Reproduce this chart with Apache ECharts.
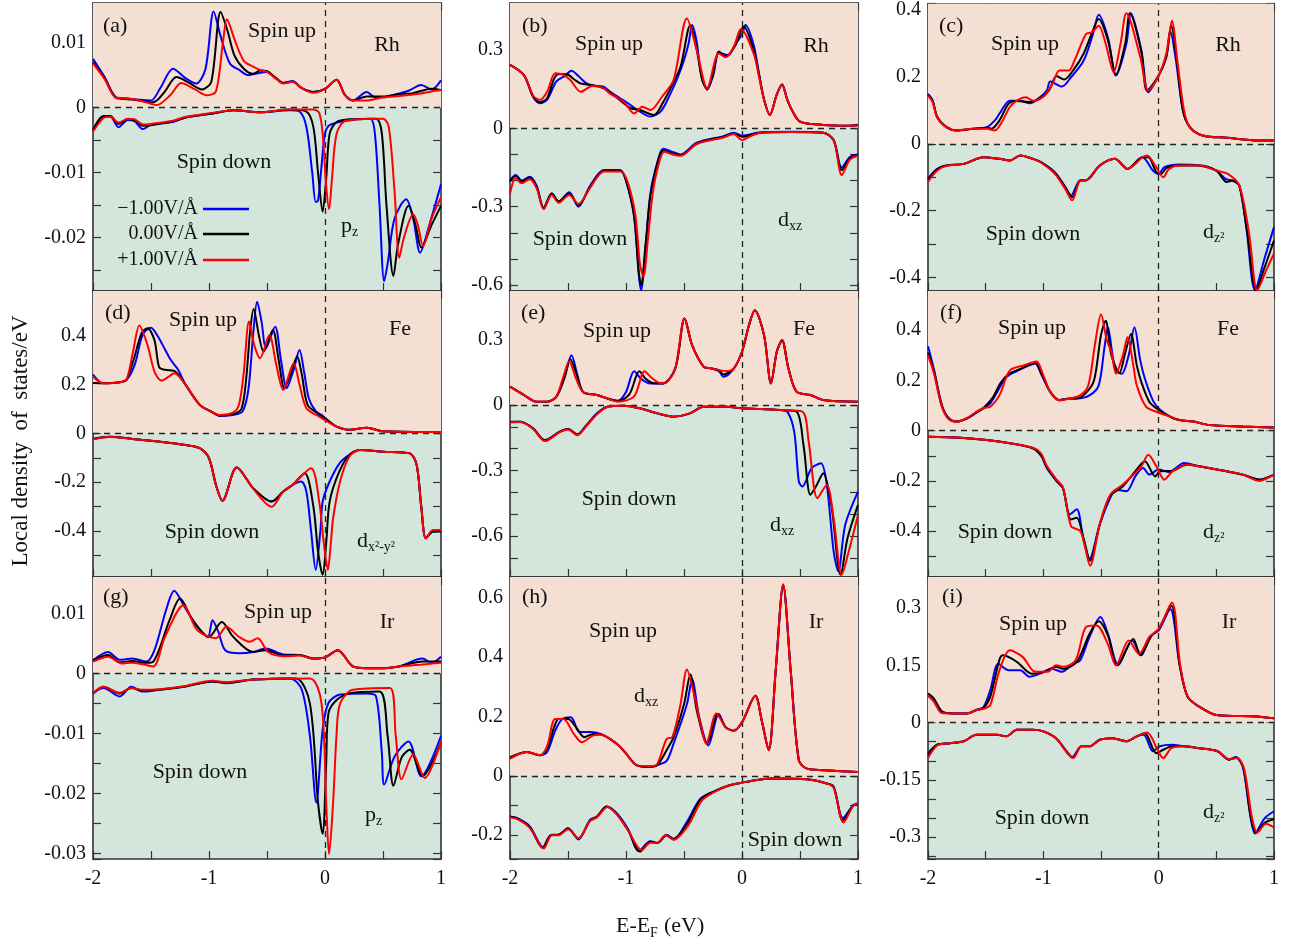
<!DOCTYPE html>
<html><head><meta charset="utf-8">
<script src="https://cdn.jsdelivr.net/npm/echarts@6/dist/echarts.min.js"></script>
<style>html,body{margin:0;padding:0;background:#fff}#c{width:1299px;height:942px}</style>
</head><body><div id="c"></div>
<script>
// ---------- DATA: [energy (eV), LDOS] ----------
const fieldNames = ['\u22121.00V/\u00c5', '0.00V/\u00c5', '+1.00V/\u00c5'];
const xTicks = [-2, -1, 0, 1];

// (a) Rh pz
const a_up_m1 = [[-2,0.0075],[-1.9,0.0047],[-1.8,0.0016],[-1.7,0.0014],[-1.6,0.0012],[-1.5,0.0011],[-1.42,0.003],[-1.31,0.006],[-1.2,0.0045],[-1.11,0.0037],[-1.03,0.006],[-0.96,0.0148],[-0.9,0.011],[-0.82,0.0068],[-0.74,0.0058],[-0.66,0.005],[-0.58,0.0053],[-0.5,0.0055],[-0.42,0.0045],[-0.36,0.0038],[-0.28,0.0041],[-0.2,0.003],[-0.1,0.0024],[0,0.0029],[0.1,0.0043],[0.17,0.002],[0.24,0.0011],[0.36,0.0024],[0.43,0.0016],[0.5,0.0016],[0.64,0.0022],[0.72,0.0026],[0.83,0.0035],[0.92,0.0028],[1,0.0042]];
const a_up_0 = [[-2,0.007],[-1.9,0.0045],[-1.8,0.0015],[-1.7,0.0013],[-1.6,0.0011],[-1.5,0.0008],[-1.45,0.0011],[-1.38,0.0025],[-1.28,0.0047],[-1.17,0.0038],[-1.06,0.0028],[-0.98,0.004],[-0.9,0.0147],[-0.84,0.0118],[-0.78,0.008],[-0.7,0.006],[-0.62,0.0052],[-0.56,0.0057],[-0.5,0.0056],[-0.42,0.0045],[-0.36,0.0038],[-0.28,0.004],[-0.2,0.003],[-0.1,0.0024],[0,0.0029],[0.1,0.0043],[0.17,0.002],[0.24,0.0011],[0.36,0.0017],[0.5,0.0017],[0.64,0.0021],[0.75,0.0022],[0.92,0.0029],[1,0.0027]];
const a_up_p1 = [[-2,0.0068],[-1.9,0.0044],[-1.8,0.0015],[-1.7,0.0014],[-1.6,0.0011],[-1.5,0.0006],[-1.45,0.0004],[-1.33,0.002],[-1.24,0.0038],[-1.12,0.0028],[-1.02,0.0019],[-0.94,0.0025],[-0.88,0.01],[-0.845,0.0136],[-0.78,0.0105],[-0.7,0.0072],[-0.62,0.0063],[-0.56,0.0058],[-0.5,0.0055],[-0.42,0.0044],[-0.36,0.0037],[-0.28,0.004],[-0.2,0.003],[-0.1,0.0023],[0,0.0029],[0.1,0.0043],[0.17,0.002],[0.24,0.0011],[0.36,0.0011],[0.5,0.0016],[0.64,0.0018],[0.8,0.0021],[0.92,0.0025],[1,0.0027]];
const a_dn_m1 = [[-2,-0.0035],[-1.91,-0.0014],[-1.85,-0.0014],[-1.78,-0.003],[-1.7,-0.0019],[-1.64,-0.0021],[-1.57,-0.0033],[-1.5,-0.0026],[-1.31,-0.0022],[-1.2,-0.0015],[-0.97,-0.0009],[-0.79,-0.0004],[-0.56,-0.0007],[-0.3,-0.0004],[-0.22,-0.0006],[-0.16,-0.003],[-0.11,-0.01],[-0.08,-0.0145],[-0.06,-0.0143],[-0.03,-0.009],[0,-0.004],[0.04,-0.0027],[0.18,-0.002],[0.39,-0.0017],[0.43,-0.004],[0.47,-0.015],[0.51,-0.0267],[0.54,-0.024],[0.6,-0.017],[0.7,-0.0141],[0.76,-0.017],[0.82,-0.0223],[0.9,-0.018],[1,-0.0118]];
const a_dn_0 = [[-2,-0.0035],[-1.91,-0.0013],[-1.85,-0.0013],[-1.78,-0.0025],[-1.7,-0.0018],[-1.64,-0.0019],[-1.57,-0.0028],[-1.5,-0.0027],[-1.31,-0.0021],[-1.2,-0.0015],[-0.97,-0.0009],[-0.79,-0.0004],[-0.56,-0.0007],[-0.3,-0.0003],[-0.16,-0.0006],[-0.1,-0.003],[-0.06,-0.01],[-0.02,-0.016],[0.01,-0.011],[0.04,-0.004],[0.1,-0.0022],[0.2,-0.0018],[0.44,-0.0017],[0.49,-0.004],[0.53,-0.015],[0.59,-0.0259],[0.63,-0.021],[0.72,-0.0151],[0.78,-0.018],[0.83,-0.0215],[0.92,-0.018],[1,-0.0151]];
const a_dn_p1 = [[-2,-0.0037],[-1.91,-0.0016],[-1.85,-0.0014],[-1.78,-0.0023],[-1.7,-0.0017],[-1.64,-0.0018],[-1.57,-0.0026],[-1.5,-0.0025],[-1.31,-0.002],[-1.2,-0.0014],[-0.97,-0.0008],[-0.79,-0.0004],[-0.56,-0.0007],[-0.3,-0.0003],[-0.1,-0.0003],[-0.05,-0.0008],[-0.02,-0.004],[0.01,-0.012],[0.035,-0.0156],[0.06,-0.011],[0.1,-0.004],[0.18,-0.002],[0.5,-0.0017],[0.55,-0.003],[0.6,-0.013],[0.64,-0.0231],[0.68,-0.02],[0.76,-0.0164],[0.8,-0.018],[0.845,-0.0213],[0.92,-0.017],[1,-0.0138]];

// (b) Rh dxz
const b_up_m1 = [[-2,0.243],[-1.88,0.204],[-1.8,0.12],[-1.74,0.096],[-1.68,0.11],[-1.6,0.18],[-1.53,0.2],[-1.47,0.221],[-1.41,0.2],[-1.34,0.172],[-1.28,0.163],[-1.2,0.16],[-1.12,0.135],[-1.05,0.115],[-0.98,0.095],[-0.9,0.07],[-0.79,0.045],[-0.7,0.065],[-0.62,0.13],[-0.55,0.2],[-0.5,0.262],[-0.46,0.326],[-0.43,0.396],[-0.39,0.33],[-0.35,0.2],[-0.3,0.148],[-0.25,0.2],[-0.2,0.29],[-0.16,0.285],[-0.12,0.28],[-0.06,0.32],[0,0.36],[0.03,0.396],[0.1,0.32],[0.15,0.2],[0.19,0.11],[0.24,0.051],[0.3,0.13],[0.345,0.168],[0.39,0.11],[0.43,0.07],[0.5,0.026],[0.7,0.013],[0.9,0.01],[1,0.014]];
const b_up_0 = [[-2,0.243],[-1.88,0.204],[-1.8,0.122],[-1.74,0.1],[-1.68,0.115],[-1.62,0.19],[-1.58,0.208],[-1.5,0.205],[-1.44,0.185],[-1.39,0.172],[-1.3,0.166],[-1.2,0.155],[-1.12,0.132],[-1.03,0.1],[-0.96,0.077],[-0.88,0.07],[-0.76,0.051],[-0.68,0.1],[-0.62,0.15],[-0.53,0.236],[-0.445,0.396],[-0.39,0.3],[-0.34,0.18],[-0.3,0.153],[-0.25,0.21],[-0.2,0.294],[-0.14,0.275],[-0.06,0.315],[0.015,0.39],[0.1,0.3],[0.15,0.2],[0.19,0.11],[0.24,0.051],[0.3,0.13],[0.345,0.168],[0.39,0.11],[0.43,0.07],[0.5,0.026],[0.7,0.013],[0.9,0.01],[1,0.012]];
const b_up_p1 = [[-2,0.243],[-1.88,0.204],[-1.8,0.125],[-1.74,0.109],[-1.68,0.14],[-1.61,0.211],[-1.54,0.205],[-1.48,0.185],[-1.39,0.14],[-1.29,0.162],[-1.2,0.155],[-1.14,0.134],[-1.02,0.102],[-0.93,0.057],[-0.86,0.083],[-0.79,0.07],[-0.69,0.121],[-0.59,0.185],[-0.475,0.421],[-0.39,0.3],[-0.3,0.153],[-0.2,0.287],[-0.14,0.272],[-0.07,0.313],[-0.01,0.38],[0.1,0.287],[0.15,0.19],[0.19,0.109],[0.24,0.051],[0.3,0.13],[0.345,0.166],[0.39,0.11],[0.43,0.07],[0.5,0.026],[0.7,0.013],[0.9,0.01],[1,0.01]];
const b_dn_m1 = [[-2,-0.2],[-1.95,-0.179],[-1.9,-0.2],[-1.83,-0.185],[-1.77,-0.22],[-1.71,-0.305],[-1.64,-0.25],[-1.58,-0.28],[-1.49,-0.245],[-1.41,-0.3],[-1.31,-0.22],[-1.19,-0.16],[-1.05,-0.16],[-1.0,-0.2],[-0.93,-0.34],[-0.89,-0.56],[-0.87,-0.62],[-0.83,-0.45],[-0.79,-0.25],[-0.73,-0.13],[-0.68,-0.078],[-0.6,-0.09],[-0.53,-0.1],[-0.39,-0.055],[-0.16,-0.03],[-0.07,-0.017],[0,-0.028],[0.16,-0.015],[0.42,-0.013],[0.7,-0.017],[0.79,-0.045],[0.86,-0.15],[0.93,-0.11],[1,-0.1]];
const b_dn_0 = [[-2,-0.204],[-1.95,-0.182],[-1.9,-0.204],[-1.83,-0.188],[-1.77,-0.225],[-1.71,-0.305],[-1.64,-0.25],[-1.58,-0.28],[-1.49,-0.25],[-1.41,-0.295],[-1.31,-0.225],[-1.19,-0.162],[-1.05,-0.162],[-1.0,-0.2],[-0.93,-0.335],[-0.89,-0.55],[-0.87,-0.6],[-0.83,-0.44],[-0.79,-0.26],[-0.73,-0.135],[-0.68,-0.085],[-0.6,-0.095],[-0.53,-0.103],[-0.39,-0.058],[-0.16,-0.032],[-0.07,-0.02],[0,-0.032],[0.16,-0.017],[0.42,-0.014],[0.7,-0.017],[0.79,-0.045],[0.86,-0.16],[0.93,-0.115],[1,-0.102]];
const b_dn_p1 = [[-2,-0.25],[-1.95,-0.19],[-1.9,-0.21],[-1.83,-0.195],[-1.77,-0.23],[-1.71,-0.31],[-1.64,-0.255],[-1.58,-0.285],[-1.49,-0.255],[-1.41,-0.29],[-1.31,-0.228],[-1.19,-0.165],[-1.05,-0.165],[-0.99,-0.2],[-0.92,-0.33],[-0.88,-0.52],[-0.85,-0.568],[-0.81,-0.42],[-0.77,-0.25],[-0.72,-0.14],[-0.67,-0.09],[-0.6,-0.1],[-0.53,-0.105],[-0.39,-0.06],[-0.16,-0.035],[-0.07,-0.022],[0,-0.045],[0.05,-0.035],[0.16,-0.017],[0.42,-0.014],[0.7,-0.017],[0.79,-0.045],[0.86,-0.179],[0.93,-0.12],[1,-0.105]];

// (c) Rh dz2
const c_up_m1 = [[-2,0.149],[-1.96,0.13],[-1.92,0.08],[-1.84,0.05],[-1.75,0.04],[-1.61,0.045],[-1.49,0.05],[-1.42,0.07],[-1.38,0.09],[-1.29,0.129],[-1.2,0.129],[-1.12,0.121],[-1.03,0.139],[-0.97,0.159],[-0.94,0.186],[-0.84,0.171],[-0.76,0.199],[-0.65,0.249],[-0.57,0.328],[-0.52,0.386],[-0.44,0.318],[-0.37,0.204],[-0.28,0.299],[-0.24,0.39],[-0.15,0.279],[-0.09,0.154],[0,0.204],[0.066,0.259],[0.1,0.338],[0.15,0.249],[0.21,0.1],[0.27,0.05],[0.38,0.025],[0.59,0.018],[0.87,0.01],[1,0.01]];
const c_up_0 = [[-2,0.146],[-1.96,0.128],[-1.92,0.08],[-1.84,0.05],[-1.75,0.04],[-1.61,0.045],[-1.49,0.048],[-1.45,0.045],[-1.38,0.07],[-1.3,0.12],[-1.23,0.128],[-1.12,0.125],[-1.03,0.135],[-0.95,0.16],[-0.885,0.203],[-0.82,0.192],[-0.74,0.22],[-0.65,0.27],[-0.58,0.33],[-0.52,0.373],[-0.44,0.31],[-0.37,0.207],[-0.29,0.3],[-0.25,0.39],[-0.15,0.275],[-0.1,0.159],[0,0.204],[0.066,0.26],[0.11,0.353],[0.16,0.24],[0.21,0.1],[0.27,0.05],[0.38,0.025],[0.59,0.018],[0.87,0.01],[1,0.01]];
const c_up_p1 = [[-2,0.144],[-1.96,0.125],[-1.92,0.078],[-1.84,0.05],[-1.75,0.04],[-1.61,0.045],[-1.49,0.045],[-1.42,0.04],[-1.36,0.065],[-1.29,0.11],[-1.23,0.129],[-1.15,0.139],[-1.09,0.129],[-0.99,0.144],[-0.92,0.18],[-0.86,0.219],[-0.78,0.219],[-0.73,0.249],[-0.63,0.328],[-0.58,0.333],[-0.52,0.353],[-0.46,0.3],[-0.39,0.214],[-0.33,0.3],[-0.28,0.39],[-0.16,0.26],[-0.09,0.159],[0,0.204],[0.066,0.27],[0.115,0.368],[0.165,0.24],[0.22,0.1],[0.27,0.05],[0.38,0.025],[0.59,0.018],[0.87,0.01],[1,0.01]];
const c_dn_m1 = [[-2,-0.104],[-1.92,-0.075],[-1.84,-0.065],[-1.69,-0.06],[-1.52,-0.04],[-1.38,-0.045],[-1.29,-0.05],[-1.2,-0.035],[-1.09,-0.045],[-1.02,-0.055],[-0.9,-0.085],[-0.81,-0.129],[-0.76,-0.155],[-0.68,-0.109],[-0.63,-0.109],[-0.51,-0.065],[-0.38,-0.045],[-0.27,-0.075],[-0.14,-0.04],[-0.05,-0.08],[0,-0.09],[0.05,-0.07],[0.18,-0.062],[0.35,-0.065],[0.5,-0.08],[0.58,-0.105],[0.64,-0.11],[0.7,-0.125],[0.76,-0.25],[0.835,-0.438],[0.92,-0.34],[1,-0.249]];
const c_dn_0 = [[-2,-0.106],[-1.92,-0.076],[-1.84,-0.065],[-1.69,-0.06],[-1.52,-0.04],[-1.38,-0.045],[-1.29,-0.05],[-1.2,-0.035],[-1.09,-0.045],[-1.02,-0.055],[-0.9,-0.088],[-0.81,-0.13],[-0.75,-0.16],[-0.68,-0.11],[-0.63,-0.109],[-0.51,-0.065],[-0.38,-0.045],[-0.27,-0.075],[-0.14,-0.04],[-0.09,-0.04],[-0.02,-0.085],[0.02,-0.09],[0.07,-0.072],[0.18,-0.065],[0.35,-0.065],[0.5,-0.08],[0.59,-0.114],[0.64,-0.11],[0.7,-0.127],[0.77,-0.27],[0.845,-0.438],[0.92,-0.368],[1,-0.289]];
const c_dn_p1 = [[-2,-0.114],[-1.92,-0.08],[-1.84,-0.066],[-1.69,-0.06],[-1.52,-0.04],[-1.38,-0.045],[-1.29,-0.05],[-1.2,-0.035],[-1.09,-0.045],[-1.02,-0.056],[-0.9,-0.09],[-0.81,-0.135],[-0.75,-0.169],[-0.68,-0.11],[-0.63,-0.109],[-0.51,-0.065],[-0.38,-0.045],[-0.27,-0.075],[-0.14,-0.04],[-0.1,-0.035],[-0.03,-0.065],[0.04,-0.1],[0.09,-0.075],[0.18,-0.065],[0.35,-0.065],[0.5,-0.08],[0.6,-0.09],[0.7,-0.125],[0.785,-0.27],[0.855,-0.438],[0.93,-0.38],[1,-0.328]];

// (d) Fe dx2-y2
const d_up_m1 = [[-2,0.24],[-1.91,0.204],[-1.77,0.208],[-1.71,0.218],[-1.64,0.28],[-1.57,0.405],[-1.5,0.431],[-1.44,0.395],[-1.4,0.361],[-1.33,0.3],[-1.27,0.262],[-1.2,0.197],[-1.08,0.116],[-0.98,0.088],[-0.91,0.072],[-0.79,0.075],[-0.71,0.09],[-0.66,0.18],[-0.62,0.4],[-0.585,0.537],[-0.545,0.45],[-0.51,0.347],[-0.43,0.435],[-0.38,0.3],[-0.33,0.184],[-0.27,0.26],[-0.22,0.34],[-0.18,0.25],[-0.14,0.143],[-0.08,0.09],[-0.03,0.075],[0.03,0.05],[0.1,0.027],[0.21,0.014],[0.36,0.023],[0.5,0.008],[1,0.005]];
const d_up_0 = [[-2,0.205],[-1.91,0.204],[-1.77,0.208],[-1.71,0.22],[-1.65,0.3],[-1.58,0.41],[-1.53,0.429],[-1.47,0.38],[-1.43,0.27],[-1.38,0.259],[-1.3,0.255],[-1.2,0.197],[-1.08,0.116],[-0.98,0.088],[-0.91,0.072],[-0.79,0.078],[-0.72,0.1],[-0.68,0.22],[-0.645,0.42],[-0.615,0.507],[-0.57,0.4],[-0.53,0.333],[-0.45,0.422],[-0.4,0.3],[-0.35,0.184],[-0.29,0.25],[-0.24,0.313],[-0.2,0.24],[-0.15,0.116],[-0.06,0.08],[0.03,0.05],[0.1,0.027],[0.21,0.014],[0.36,0.023],[0.5,0.008],[1,0.005]];
const d_up_p1 = [[-2,0.231],[-1.91,0.204],[-1.77,0.208],[-1.71,0.22],[-1.655,0.333],[-1.6,0.44],[-1.53,0.36],[-1.47,0.252],[-1.41,0.215],[-1.35,0.23],[-1.3,0.245],[-1.2,0.197],[-1.08,0.116],[-0.98,0.088],[-0.91,0.075],[-0.79,0.085],[-0.74,0.12],[-0.7,0.25],[-0.655,0.456],[-0.61,0.36],[-0.56,0.306],[-0.48,0.401],[-0.42,0.28],[-0.36,0.177],[-0.27,0.286],[-0.22,0.2],[-0.16,0.102],[-0.05,0.068],[0.03,0.045],[0.1,0.027],[0.21,0.014],[0.36,0.023],[0.5,0.008],[1,0.005]];
const d_dn_m1 = [[-2,-0.023],[-1.86,-0.014],[-1.66,-0.023],[-1.43,-0.034],[-1.2,-0.048],[-1.08,-0.061],[-1.0,-0.102],[-0.94,-0.211],[-0.885,-0.276],[-0.79,-0.156],[-0.76,-0.14],[-0.68,-0.184],[-0.62,-0.224],[-0.46,-0.279],[-0.36,-0.238],[-0.28,-0.211],[-0.205,-0.197],[-0.16,-0.24],[-0.12,-0.4],[-0.08,-0.558],[-0.04,-0.4],[-0.02,-0.279],[0.04,-0.197],[0.13,-0.12],[0.21,-0.088],[0.3,-0.068],[0.5,-0.075],[0.73,-0.082],[0.79,-0.129],[0.83,-0.3],[0.87,-0.429],[0.93,-0.401],[1,-0.4]];
const d_dn_0 = [[-2,-0.023],[-1.86,-0.014],[-1.66,-0.023],[-1.43,-0.034],[-1.2,-0.048],[-1.08,-0.061],[-1.0,-0.102],[-0.94,-0.211],[-0.885,-0.276],[-0.79,-0.156],[-0.76,-0.14],[-0.68,-0.184],[-0.62,-0.224],[-0.46,-0.279],[-0.36,-0.238],[-0.28,-0.211],[-0.175,-0.163],[-0.1,-0.3],[-0.06,-0.483],[-0.02,-0.578],[0.01,-0.45],[0.04,-0.279],[0.12,-0.16],[0.21,-0.088],[0.3,-0.068],[0.5,-0.075],[0.73,-0.082],[0.79,-0.129],[0.83,-0.3],[0.87,-0.429],[0.93,-0.401],[1,-0.4]];
const d_dn_p1 = [[-2,-0.025],[-1.86,-0.015],[-1.66,-0.023],[-1.43,-0.034],[-1.2,-0.048],[-1.08,-0.061],[-1.0,-0.102],[-0.94,-0.211],[-0.885,-0.276],[-0.79,-0.156],[-0.76,-0.14],[-0.68,-0.184],[-0.62,-0.226],[-0.46,-0.3],[-0.36,-0.238],[-0.28,-0.211],[-0.12,-0.143],[-0.05,-0.279],[-0.01,-0.45],[0.025,-0.558],[0.05,-0.45],[0.07,-0.347],[0.13,-0.197],[0.21,-0.095],[0.3,-0.068],[0.5,-0.075],[0.73,-0.082],[0.79,-0.129],[0.83,-0.3],[0.87,-0.43],[0.93,-0.395],[1,-0.395]];

// (e) Fe dxz
const e_up_m1 = [[-2,0.084],[-1.88,0.046],[-1.77,0.015],[-1.68,0.015],[-1.6,0.038],[-1.53,0.13],[-1.47,0.228],[-1.42,0.14],[-1.37,0.06],[-1.25,0.046],[-1.16,0.03],[-1.07,0.02],[-1.0,0.06],[-0.93,0.155],[-0.87,0.12],[-0.79,0.099],[-0.68,0.099],[-0.575,0.168],[-0.495,0.396],[-0.43,0.274],[-0.33,0.175],[-0.27,0.168],[-0.2,0.155],[-0.16,0.129],[-0.07,0.168],[0,0.244],[0.06,0.365],[0.11,0.434],[0.19,0.32],[0.25,0.099],[0.3,0.244],[0.345,0.297],[0.4,0.168],[0.47,0.061],[0.59,0.046],[0.7,0.023],[1,0.015]];
const e_up_0 = [[-2,0.084],[-1.88,0.046],[-1.77,0.015],[-1.68,0.015],[-1.6,0.038],[-1.53,0.125],[-1.48,0.21],[-1.42,0.13],[-1.37,0.06],[-1.25,0.046],[-1.16,0.03],[-1.07,0.018],[-0.97,0.05],[-0.885,0.155],[-0.83,0.12],[-0.76,0.1],[-0.68,0.099],[-0.575,0.168],[-0.495,0.396],[-0.43,0.274],[-0.33,0.175],[-0.27,0.168],[-0.2,0.16],[-0.16,0.14],[-0.07,0.168],[0,0.244],[0.06,0.365],[0.11,0.434],[0.19,0.32],[0.25,0.099],[0.3,0.244],[0.345,0.297],[0.4,0.168],[0.47,0.061],[0.59,0.046],[0.7,0.023],[1,0.015]];
const e_up_p1 = [[-2,0.084],[-1.88,0.046],[-1.77,0.015],[-1.68,0.015],[-1.6,0.04],[-1.54,0.13],[-1.49,0.2],[-1.43,0.12],[-1.37,0.06],[-1.25,0.046],[-1.16,0.03],[-1.07,0.015],[-0.93,0.04],[-0.84,0.155],[-0.78,0.125],[-0.7,0.1],[-0.65,0.105],[-0.575,0.168],[-0.495,0.396],[-0.43,0.274],[-0.33,0.175],[-0.27,0.168],[-0.2,0.16],[-0.14,0.155],[-0.07,0.168],[0,0.244],[0.06,0.365],[0.11,0.434],[0.19,0.32],[0.25,0.099],[0.3,0.244],[0.345,0.297],[0.4,0.168],[0.47,0.061],[0.59,0.046],[0.7,0.023],[1,0.015]];
const e_dn_m1 = [[-2,-0.076],[-1.91,-0.076],[-1.8,-0.107],[-1.7,-0.16],[-1.57,-0.122],[-1.5,-0.11],[-1.42,-0.134],[-1.34,-0.091],[-1.25,-0.038],[-1.16,-0.008],[-1.02,-0.003],[-0.88,-0.015],[-0.73,-0.038],[-0.59,-0.053],[-0.45,-0.038],[-0.33,-0.008],[-0.13,-0.008],[0,-0.015],[0.16,-0.018],[0.33,-0.023],[0.39,-0.03],[0.45,-0.122],[0.49,-0.35],[0.52,-0.373],[0.6,-0.289],[0.68,-0.266],[0.73,-0.36],[0.79,-0.67],[0.83,-0.761],[0.89,-0.548],[1,-0.396]];
const e_dn_0 = [[-2,-0.078],[-1.91,-0.077],[-1.8,-0.108],[-1.7,-0.162],[-1.57,-0.122],[-1.5,-0.11],[-1.42,-0.136],[-1.34,-0.093],[-1.25,-0.04],[-1.16,-0.008],[-1.02,-0.003],[-0.88,-0.015],[-0.73,-0.038],[-0.59,-0.053],[-0.45,-0.038],[-0.33,-0.008],[-0.13,-0.008],[0,-0.015],[0.16,-0.018],[0.33,-0.023],[0.47,-0.03],[0.53,-0.183],[0.59,-0.411],[0.64,-0.37],[0.7,-0.312],[0.77,-0.457],[0.85,-0.777],[0.91,-0.609],[1,-0.457]];
const e_dn_p1 = [[-2,-0.08],[-1.91,-0.078],[-1.8,-0.11],[-1.7,-0.165],[-1.57,-0.124],[-1.5,-0.112],[-1.42,-0.138],[-1.34,-0.095],[-1.25,-0.042],[-1.16,-0.009],[-1.02,-0.003],[-0.88,-0.015],[-0.73,-0.038],[-0.59,-0.053],[-0.45,-0.038],[-0.33,-0.008],[-0.13,-0.008],[0,-0.015],[0.16,-0.018],[0.33,-0.023],[0.52,-0.03],[0.575,-0.168],[0.65,-0.426],[0.73,-0.366],[0.79,-0.518],[0.86,-0.777],[0.92,-0.67],[1,-0.503]];

// (f) Fe dz2
const f_up_m1 = [[-2,0.335],[-1.95,0.246],[-1.88,0.101],[-1.82,0.049],[-1.75,0.036],[-1.66,0.049],[-1.59,0.068],[-1.52,0.088],[-1.46,0.108],[-1.4,0.154],[-1.32,0.213],[-1.22,0.239],[-1.07,0.266],[-1.02,0.226],[-0.94,0.154],[-0.86,0.121],[-0.77,0.128],[-0.71,0.128],[-0.6,0.14],[-0.52,0.18],[-0.47,0.33],[-0.44,0.411],[-0.4,0.3],[-0.37,0.239],[-0.32,0.226],[-0.26,0.3],[-0.21,0.411],[-0.16,0.28],[-0.12,0.207],[-0.05,0.12],[0,0.088],[0.1,0.055],[0.18,0.042],[0.3,0.036],[0.44,0.022],[0.73,0.016],[1,0.012]];
const f_up_0 = [[-2,0.31],[-1.95,0.24],[-1.88,0.1],[-1.82,0.048],[-1.75,0.036],[-1.66,0.049],[-1.59,0.07],[-1.52,0.09],[-1.44,0.13],[-1.37,0.19],[-1.3,0.225],[-1.2,0.245],[-1.07,0.27],[-1.02,0.23],[-0.94,0.154],[-0.86,0.121],[-0.77,0.128],[-0.71,0.128],[-0.63,0.15],[-0.56,0.2],[-0.5,0.38],[-0.46,0.437],[-0.41,0.3],[-0.34,0.23],[-0.29,0.31],[-0.24,0.384],[-0.19,0.26],[-0.15,0.193],[-0.08,0.114],[0,0.082],[0.1,0.055],[0.18,0.042],[0.3,0.036],[0.44,0.022],[0.73,0.016],[1,0.012]];
const f_up_p1 = [[-2,0.3],[-1.95,0.23],[-1.88,0.095],[-1.82,0.045],[-1.75,0.036],[-1.66,0.05],[-1.59,0.072],[-1.52,0.09],[-1.46,0.095],[-1.38,0.141],[-1.29,0.239],[-1.17,0.259],[-1.06,0.275],[-1.0,0.22],[-0.94,0.154],[-0.86,0.121],[-0.77,0.128],[-0.68,0.14],[-0.61,0.18],[-0.55,0.35],[-0.5,0.463],[-0.45,0.36],[-0.41,0.312],[-0.37,0.226],[-0.31,0.3],[-0.27,0.371],[-0.22,0.26],[-0.19,0.18],[-0.11,0.095],[-0.02,0.075],[0.1,0.055],[0.18,0.042],[0.3,0.036],[0.44,0.022],[0.73,0.016],[1,0.012]];
const f_dn_m1 = [[-2,-0.024],[-1.72,-0.028],[-1.49,-0.037],[-1.29,-0.05],[-1.09,-0.07],[-1.02,-0.096],[-0.97,-0.149],[-0.885,-0.201],[-0.83,-0.228],[-0.77,-0.333],[-0.71,-0.313],[-0.655,-0.425],[-0.6,-0.51],[-0.51,-0.372],[-0.42,-0.267],[-0.37,-0.235],[-0.28,-0.241],[-0.2,-0.18],[-0.135,-0.149],[-0.08,-0.175],[0,-0.155],[0.09,-0.165],[0.22,-0.129],[0.35,-0.142],[0.59,-0.162],[0.73,-0.175],[0.87,-0.195],[1,-0.175]];
const f_dn_0 = [[-2,-0.024],[-1.72,-0.028],[-1.49,-0.037],[-1.29,-0.05],[-1.09,-0.07],[-1.02,-0.1],[-0.97,-0.145],[-0.885,-0.2],[-0.83,-0.23],[-0.76,-0.353],[-0.71,-0.346],[-0.65,-0.43],[-0.595,-0.517],[-0.51,-0.372],[-0.42,-0.26],[-0.31,-0.221],[-0.2,-0.16],[-0.12,-0.122],[-0.03,-0.182],[0.01,-0.162],[0.12,-0.16],[0.24,-0.136],[0.35,-0.142],[0.59,-0.162],[0.73,-0.175],[0.87,-0.195],[1,-0.175]];
const f_dn_p1 = [[-2,-0.024],[-1.72,-0.028],[-1.49,-0.037],[-1.29,-0.05],[-1.09,-0.068],[-1.02,-0.09],[-0.97,-0.14],[-0.885,-0.195],[-0.83,-0.225],[-0.76,-0.38],[-0.68,-0.399],[-0.64,-0.46],[-0.595,-0.537],[-0.51,-0.37],[-0.42,-0.255],[-0.31,-0.214],[-0.15,-0.142],[-0.09,-0.096],[-0.02,-0.142],[0.05,-0.195],[0.12,-0.162],[0.25,-0.136],[0.35,-0.142],[0.59,-0.162],[0.73,-0.175],[0.87,-0.2],[1,-0.175]];

// (g) Ir pz
const g_up_m1 = [[-2,0.0022],[-1.87,0.0036],[-1.77,0.0023],[-1.66,0.0025],[-1.54,0.002],[-1.47,0.0039],[-1.37,0.0106],[-1.3,0.0138],[-1.21,0.0111],[-1.11,0.0081],[-1.01,0.0061],[-0.97,0.0089],[-0.92,0.007],[-0.86,0.0039],[-0.74,0.0034],[-0.62,0.0036],[-0.51,0.0042],[-0.36,0.0032],[-0.22,0.0031],[-0.1,0.0025],[0,0.0027],[0.11,0.0039],[0.24,0.0012],[0.36,0.0009],[0.5,0.0009],[0.64,0.0012],[0.84,0.0025],[0.92,0.0018],[1,0.0028]];
const g_up_0 = [[-2,0.0022],[-1.87,0.0031],[-1.77,0.0019],[-1.66,0.0021],[-1.54,0.0018],[-1.48,0.002],[-1.34,0.0089],[-1.25,0.0125],[-1.14,0.0089],[-1.0,0.0061],[-0.89,0.0086],[-0.79,0.0061],[-0.62,0.0036],[-0.51,0.0039],[-0.36,0.003],[-0.22,0.0031],[-0.1,0.0025],[0,0.0027],[0.11,0.0039],[0.24,0.0012],[0.36,0.0009],[0.5,0.0009],[0.64,0.0012],[0.84,0.002],[1,0.002]];
const g_up_p1 = [[-2,0.002],[-1.87,0.0028],[-1.75,0.0017],[-1.66,0.0018],[-1.56,0.0015],[-1.48,0.0012],[-1.38,0.0061],[-1.22,0.0114],[-1.1,0.0072],[-0.94,0.0059],[-0.85,0.0078],[-0.74,0.0061],[-0.65,0.0053],[-0.58,0.0059],[-0.49,0.0036],[-0.36,0.0029],[-0.22,0.003],[-0.1,0.0025],[0,0.0027],[0.11,0.0039],[0.24,0.0012],[0.36,0.0009],[0.5,0.0009],[0.64,0.0012],[0.84,0.0015],[1,0.0018]];
const g_dn_m1 = [[-2,-0.0033],[-1.91,-0.0024],[-1.77,-0.0038],[-1.67,-0.0022],[-1.57,-0.003],[-1.43,-0.0027],[-1.22,-0.0022],[-0.97,-0.0013],[-0.85,-0.0016],[-0.62,-0.001],[-0.3,-0.0008],[-0.2,-0.0027],[-0.13,-0.0104],[-0.075,-0.0215],[-0.02,-0.0093],[0.03,-0.0049],[0.13,-0.0035],[0.36,-0.0033],[0.44,-0.0038],[0.49,-0.0132],[0.51,-0.0185],[0.6,-0.0138],[0.72,-0.0113],[0.83,-0.0171],[1,-0.0104]];
const g_dn_0 = [[-2,-0.0033],[-1.91,-0.0022],[-1.77,-0.0033],[-1.67,-0.0024],[-1.57,-0.0028],[-1.43,-0.0027],[-1.22,-0.0022],[-0.97,-0.0013],[-0.85,-0.0015],[-0.62,-0.001],[-0.25,-0.0008],[-0.13,-0.005],[-0.06,-0.0215],[-0.02,-0.0267],[0.01,-0.015],[0.03,-0.0066],[0.1,-0.0044],[0.21,-0.0033],[0.47,-0.003],[0.54,-0.0104],[0.59,-0.0187],[0.66,-0.014],[0.73,-0.0127],[0.84,-0.0171],[1,-0.0115]];
const g_dn_p1 = [[-2,-0.0034],[-1.91,-0.0022],[-1.77,-0.0032],[-1.67,-0.0024],[-1.57,-0.0027],[-1.43,-0.0026],[-1.22,-0.0021],[-0.97,-0.0012],[-0.85,-0.0014],[-0.62,-0.001],[-0.13,-0.0008],[-0.03,-0.005],[0.01,-0.0215],[0.035,-0.0301],[0.07,-0.0215],[0.1,-0.01],[0.13,-0.005],[0.24,-0.0027],[0.56,-0.0024],[0.61,-0.0104],[0.66,-0.0176],[0.76,-0.0135],[0.86,-0.0174],[1,-0.0113]];

// (h) Ir dxz
const h_up_m1 = [[-2,0.058],[-1.855,0.08],[-1.74,0.069],[-1.68,0.08],[-1.61,0.152],[-1.55,0.191],[-1.475,0.197],[-1.4,0.147],[-1.31,0.147],[-1.22,0.141],[-1.08,0.108],[-1.01,0.08],[-0.91,0.036],[-0.79,0.03],[-0.73,0.036],[-0.65,0.05],[-0.59,0.108],[-0.475,0.241],[-0.43,0.324],[-0.37,0.2],[-0.29,0.102],[-0.2,0.208],[-0.14,0.163],[-0.07,0.152],[0,0.18],[0.115,0.269],[0.17,0.186],[0.23,0.086],[0.29,0.352],[0.355,0.641],[0.42,0.352],[0.49,0.052],[0.56,0.024],[0.7,0.019],[1,0.013]];
const h_up_0 = [[-2,0.063],[-1.855,0.08],[-1.74,0.069],[-1.68,0.09],[-1.62,0.163],[-1.58,0.191],[-1.5,0.191],[-1.43,0.163],[-1.36,0.13],[-1.28,0.141],[-1.22,0.14],[-1.08,0.108],[-1.01,0.08],[-0.91,0.036],[-0.79,0.03],[-0.73,0.036],[-0.65,0.086],[-0.59,0.13],[-0.5,0.241],[-0.445,0.341],[-0.39,0.22],[-0.3,0.108],[-0.21,0.208],[-0.14,0.163],[-0.07,0.152],[0,0.18],[0.115,0.269],[0.17,0.186],[0.23,0.086],[0.29,0.352],[0.355,0.641],[0.42,0.352],[0.49,0.052],[0.56,0.024],[0.7,0.019],[1,0.013]];
const h_up_p1 = [[-2,0.058],[-1.855,0.08],[-1.74,0.069],[-1.68,0.1],[-1.61,0.191],[-1.54,0.191],[-1.45,0.141],[-1.38,0.113],[-1.28,0.136],[-1.22,0.138],[-1.08,0.108],[-1.01,0.08],[-0.91,0.036],[-0.79,0.033],[-0.73,0.04],[-0.65,0.124],[-0.6,0.13],[-0.53,0.241],[-0.475,0.358],[-0.42,0.286],[-0.345,0.152],[-0.31,0.108],[-0.22,0.21],[-0.14,0.163],[-0.07,0.152],[0,0.18],[0.115,0.269],[0.17,0.186],[0.23,0.086],[0.29,0.352],[0.355,0.645],[0.42,0.352],[0.49,0.052],[0.56,0.024],[0.7,0.019],[1,0.013]];
const h_dn_m1 = [[-2,-0.137],[-1.94,-0.142],[-1.83,-0.17],[-1.71,-0.242],[-1.64,-0.198],[-1.58,-0.198],[-1.5,-0.176],[-1.41,-0.214],[-1.31,-0.148],[-1.25,-0.137],[-1.165,-0.103],[-1.08,-0.126],[-0.98,-0.181],[-0.89,-0.253],[-0.79,-0.22],[-0.73,-0.226],[-0.65,-0.198],[-0.59,-0.214],[-0.475,-0.155],[-0.36,-0.078],[-0.245,-0.053],[-0.1,-0.031],[0,-0.023],[0.13,-0.014],[0.27,-0.009],[0.56,-0.012],[0.73,-0.026],[0.79,-0.037],[0.87,-0.142],[0.96,-0.098],[1,-0.092]];
const h_dn_0 = [[-2,-0.138],[-1.94,-0.143],[-1.83,-0.172],[-1.72,-0.242],[-1.65,-0.2],[-1.58,-0.198],[-1.5,-0.178],[-1.41,-0.212],[-1.31,-0.15],[-1.25,-0.138],[-1.17,-0.103],[-1.08,-0.128],[-0.98,-0.185],[-0.88,-0.255],[-0.79,-0.222],[-0.73,-0.226],[-0.65,-0.2],[-0.59,-0.212],[-0.47,-0.16],[-0.36,-0.08],[-0.245,-0.053],[-0.1,-0.031],[0,-0.023],[0.13,-0.014],[0.27,-0.009],[0.56,-0.012],[0.73,-0.026],[0.79,-0.037],[0.87,-0.15],[0.96,-0.1],[1,-0.095]];
const h_dn_p1 = [[-2,-0.14],[-1.94,-0.145],[-1.83,-0.175],[-1.71,-0.245],[-1.64,-0.2],[-1.58,-0.2],[-1.5,-0.18],[-1.41,-0.21],[-1.31,-0.152],[-1.25,-0.14],[-1.16,-0.105],[-1.08,-0.13],[-0.98,-0.185],[-0.865,-0.25],[-0.79,-0.225],[-0.73,-0.225],[-0.66,-0.2],[-0.59,-0.215],[-0.46,-0.165],[-0.35,-0.085],[-0.24,-0.055],[-0.1,-0.031],[0,-0.023],[0.13,-0.014],[0.27,-0.009],[0.56,-0.012],[0.73,-0.026],[0.79,-0.04],[0.875,-0.157],[0.96,-0.1],[1,-0.093]];

// (i) Ir dz2
const i_up_m1 = [[-2,0.076],[-1.95,0.063],[-1.88,0.029],[-1.78,0.024],[-1.66,0.024],[-1.58,0.033],[-1.52,0.04],[-1.46,0.085],[-1.39,0.154],[-1.3,0.137],[-1.2,0.137],[-1.12,0.12],[-1.03,0.128],[-0.93,0.141],[-0.84,0.133],[-0.74,0.154],[-0.68,0.163],[-0.6,0.224],[-0.505,0.276],[-0.44,0.232],[-0.35,0.15],[-0.23,0.215],[-0.15,0.176],[-0.08,0.224],[0,0.241],[0.1,0.297],[0.18,0.154],[0.25,0.068],[0.35,0.042],[0.5,0.02],[0.85,0.016],[1,0.011]];
const i_up_0 = [[-2,0.076],[-1.95,0.063],[-1.88,0.029],[-1.78,0.024],[-1.66,0.024],[-1.58,0.033],[-1.52,0.038],[-1.46,0.068],[-1.38,0.165],[-1.35,0.176],[-1.23,0.159],[-1.1,0.128],[-0.99,0.133],[-0.89,0.146],[-0.83,0.141],[-0.71,0.159],[-0.6,0.232],[-0.52,0.265],[-0.44,0.228],[-0.36,0.15],[-0.22,0.219],[-0.16,0.176],[-0.06,0.228],[0,0.245],[0.11,0.306],[0.18,0.154],[0.25,0.068],[0.35,0.042],[0.5,0.02],[0.85,0.016],[1,0.011]];
const i_up_p1 = [[-2,0.07],[-1.95,0.055],[-1.88,0.025],[-1.78,0.024],[-1.66,0.024],[-1.58,0.033],[-1.52,0.036],[-1.46,0.046],[-1.38,0.137],[-1.29,0.189],[-1.18,0.172],[-1.07,0.133],[-0.96,0.133],[-0.89,0.15],[-0.83,0.146],[-0.72,0.163],[-0.63,0.25],[-0.54,0.254],[-0.44,0.205],[-0.37,0.15],[-0.26,0.215],[-0.17,0.18],[-0.08,0.224],[0,0.245],[0.115,0.314],[0.185,0.154],[0.25,0.068],[0.35,0.042],[0.5,0.02],[0.85,0.016],[1,0.011]];
const i_dn_m1 = [[-2,-0.08],[-1.92,-0.058],[-1.81,-0.054],[-1.69,-0.049],[-1.58,-0.032],[-1.4,-0.032],[-1.32,-0.036],[-1.23,-0.019],[-1.09,-0.019],[-1.0,-0.023],[-0.89,-0.041],[-0.8,-0.075],[-0.75,-0.09],[-0.67,-0.062],[-0.6,-0.062],[-0.51,-0.045],[-0.4,-0.041],[-0.28,-0.049],[-0.19,-0.036],[-0.13,-0.032],[-0.05,-0.075],[0.01,-0.062],[0.11,-0.058],[0.22,-0.062],[0.35,-0.067],[0.51,-0.075],[0.61,-0.097],[0.67,-0.09],[0.73,-0.115],[0.79,-0.234],[0.835,-0.29],[0.92,-0.25],[1,-0.232]];
const i_dn_0 = [[-2,-0.085],[-1.92,-0.058],[-1.81,-0.054],[-1.69,-0.049],[-1.58,-0.032],[-1.4,-0.032],[-1.32,-0.036],[-1.23,-0.019],[-1.09,-0.019],[-1.0,-0.023],[-0.89,-0.041],[-0.8,-0.075],[-0.745,-0.092],[-0.67,-0.062],[-0.6,-0.062],[-0.51,-0.045],[-0.4,-0.041],[-0.28,-0.049],[-0.19,-0.036],[-0.12,-0.028],[-0.02,-0.08],[0.04,-0.071],[0.12,-0.062],[0.22,-0.062],[0.35,-0.067],[0.51,-0.075],[0.61,-0.097],[0.67,-0.092],[0.735,-0.12],[0.8,-0.25],[0.845,-0.288],[0.92,-0.262],[1,-0.253]];
const i_dn_p1 = [[-2,-0.093],[-1.92,-0.06],[-1.81,-0.054],[-1.69,-0.049],[-1.58,-0.032],[-1.4,-0.032],[-1.32,-0.036],[-1.23,-0.019],[-1.09,-0.019],[-1.0,-0.023],[-0.89,-0.041],[-0.8,-0.077],[-0.74,-0.093],[-0.67,-0.062],[-0.6,-0.062],[-0.51,-0.045],[-0.4,-0.041],[-0.28,-0.049],[-0.19,-0.036],[-0.1,-0.026],[-0.01,-0.071],[0.04,-0.093],[0.11,-0.067],[0.22,-0.062],[0.35,-0.067],[0.51,-0.075],[0.61,-0.095],[0.68,-0.093],[0.74,-0.12],[0.81,-0.25],[0.855,-0.288],[0.93,-0.265],[1,-0.275]];

// axis ranges per panel: [min, max, minor tick step, labelled step]
const yRanges = {
  a: [-0.0282, 0.0161, 0.005, 0.01],
  b: [-0.623, 0.48, 0.1, 0.3],
  c: [-0.44, 0.419, 0.1, 0.2],
  d: [-0.587, 0.581, 0.1, 0.2],
  e: [-0.787, 0.522, 0.1, 0.3],
  f: [-0.582, 0.555, 0.1, 0.2],
  g: [-0.0309, 0.0161, 0.005, 0.01],
  h: [-0.28, 0.669, 0.1, 0.2],
  i: [-0.357, 0.381, 0.05, 0.15]
};
const seriesData = {
  a: [a_up_m1, a_up_0, a_up_p1, a_dn_m1, a_dn_0, a_dn_p1],
  b: [b_up_m1, b_up_0, b_up_p1, b_dn_m1, b_dn_0, b_dn_p1],
  c: [c_up_m1, c_up_0, c_up_p1, c_dn_m1, c_dn_0, c_dn_p1],
  d: [d_up_m1, d_up_0, d_up_p1, d_dn_m1, d_dn_0, d_dn_p1],
  e: [e_up_m1, e_up_0, e_up_p1, e_dn_m1, e_dn_0, e_dn_p1],
  f: [f_up_m1, f_up_0, f_up_p1, f_dn_m1, f_dn_0, f_dn_p1],
  g: [g_up_m1, g_up_0, g_up_p1, g_dn_m1, g_dn_0, g_dn_p1],
  h: [h_up_m1, h_up_0, h_up_p1, h_dn_m1, h_dn_0, h_dn_p1],
  i: [i_up_m1, i_up_0, i_up_p1, i_dn_m1, i_dn_0, i_dn_p1]
};
const panelKeys = ['a','b','c','d','e','f','g','h','i'];
const elements = ['Rh','Rh','Rh','Fe','Fe','Fe','Ir','Ir','Ir'];

// ---------- LAYOUT / STYLE ----------
const colLeft = [93, 510, 928], colWidth = [348, 348, 346];
const rowTop = [3, 291, 577], rowHeight = [288, 286, 282];
const lineColors = ['#0000ff', '#000000', '#ff0000'];
const PINK = '#f4dfd3', GREEN = '#d4e6dc';
const SERIF = '"Liberation Serif", "Times New Roman", serif';
const AX = '#333';

const grids = [], xAxes = [], yAxes = [], series = [];
panelKeys.forEach((k, idx) => {
  const row = Math.floor(idx / 3), col = idx % 3;
  const [ymin, ymax, step, major] = yRanges[k];
  grids.push({left: colLeft[col], top: rowTop[row], width: colWidth[col], height: rowHeight[row],
    show: true, backgroundColor: GREEN, borderWidth: 0, containLabel: false});
  const axLine = {show: true, onZero: false, lineStyle: {color: AX, width: 1.6}};
  const axTick = {show: true, inside: true, length: 8, lineStyle: {color: AX, width: 1.2}};
  const xFmt = v => (Math.abs(v - Math.round(v)) < 1e-6 && xTicks.includes(Math.round(v))) ? String(Math.round(v)) : '';
  ['bottom', 'top'].forEach((pos, j) => {
    xAxes.push({gridIndex: idx, type: 'value', position: pos, min: -2, max: 1,
      minInterval: 0.5, maxInterval: 0.5, splitNumber: 6,
      axisLine: axLine, axisTick: axTick, splitLine: {show: false},
      axisLabel: {show: j === 0 && row === 2, formatter: xFmt, fontFamily: SERIF, fontSize: 20, color: '#111', margin: 10}});
  });
  const yFmt = v => {
    const r = v / major;
    if (Math.abs(r - Math.round(r)) > 1e-6) return '';
    if (Math.abs(v) < 1e-12) return '0';
    return String(+v.toFixed(4));
  };
  ['left', 'right'].forEach((pos, j) => {
    yAxes.push({gridIndex: idx, type: 'value', position: pos, min: ymin, max: ymax,
      minInterval: step, maxInterval: step, splitNumber: Math.round((ymax - ymin) / step),
      axisLine: axLine, axisTick: axTick, splitLine: {show: false},
      axisLabel: {show: j === 0, formatter: yFmt, fontFamily: SERIF, fontSize: 20, color: '#111', margin: 7}});
  });
  const arrs = seriesData[k];
  arrs.forEach((arr, s) => {
    const f = s % 3;
    const ser = {type: 'line', name: fieldNames[f], xAxisIndex: idx * 2, yAxisIndex: idx * 2,
      data: arr, showSymbol: false, symbol: 'none', smooth: 0.3, silent: true,
      color: lineColors[f], lineStyle: {color: lineColors[f], width: 2}, z: 3 + f};
    if (s === 0) {
      ser.markArea = {silent: true, data: [[{yAxis: 0, itemStyle: {color: PINK}}, {yAxis: ymax}]]};
      ser.markLine = {silent: true, symbol: 'none', label: {show: false}, animation: false,
        lineStyle: {type: [6, 5], color: '#222', width: 1.3},
        data: [{yAxis: 0}, {xAxis: 0}]};
    }
    series.push(ser);
  });
});

// ---------- TEXT ----------
function txt(x, y, text, size, align) {
  return {type: 'text', x: x, y: y, silent: true, z: 100,
    style: {text: text, font: size + 'px ' + SERIF, fill: '#111',
      textAlign: align || 'center', textVerticalAlign: 'middle', align: align || 'center', verticalAlign: 'middle'}};
}
const tags = [['(a)',103,26],['(b)',522,26],['(c)',939,26],['(d)',105,313],['(e)',521,313],['(f)',940,313],['(g)',103,597],['(h)',522,597],['(i)',942,597]];
const spinUp = [[282,31],[609,44],[1025,44],[203,320],[617,331],[1032,328],[278,612],[623,631],[1033,624]];
const spinDown = [[224,162],[580,239],[1033,234],[212,532],[629,499],[1005,532],[200,772],[795,840],[1042,818]];
const elemPos = [[387,45],[816,46],[1228,45],[400,329],[804,329],[1228,329],[387,622],[816,622],[1229,622]];
// orbital labels: [main, sub, x, y]
const orbitals = [['p','z',341,226],['d','xz',778,220],['d','z\u00b2',1203,232],['d','x\u00b2-y\u00b2',357,541],['d','xz',770,525],['d','z\u00b2',1203,532],['p','z',365,815],['d','xz',634,696],['d','z\u00b2',1203,812]];

const graphics = [];
panelKeys.forEach((k, i) => {
  graphics.push(txt(tags[i][1], tags[i][2], tags[i][0], 22, 'left'));
  graphics.push(txt(spinUp[i][0], spinUp[i][1], 'Spin up', 22));
  graphics.push(txt(spinDown[i][0], spinDown[i][1], 'Spin down', 22));
  graphics.push(txt(elemPos[i][0], elemPos[i][1], elements[i], 22));
  const o = orbitals[i];
  graphics.push(txt(o[2], o[3], o[0], 22, 'left'));
  graphics.push(txt(o[2] + 11, o[3] + 6, o[1], 14, 'left'));
});
// axis titles
graphics.push({type: 'text', x: 21, y: 441, rotation: Math.PI / 2, silent: true,
  style: {text: 'Local density  of  states/eV', font: '23px ' + SERIF, fill: '#111',
    textAlign: 'center', textVerticalAlign: 'middle', align: 'center', verticalAlign: 'middle'}});
graphics.push(txt(616, 926, 'E-E', 22, 'left'));
graphics.push(txt(650, 933, 'F', 14, 'left'));
graphics.push(txt(664, 926, '(eV)', 22, 'left'));

// legend (three single-item legends, right-aligned)
const legendTops = [198, 223, 249];
const legends = fieldNames.map((n, i) => ({
  data: [n], right: 1050, top: legendTops[i], orient: 'vertical', align: 'right',
  padding: 0, itemWidth: 46, itemHeight: 2.5, icon: 'rect', selectedMode: false,
  textStyle: {fontFamily: SERIF, fontSize: 20, color: '#111', lineHeight: 22}
}));

const chart = echarts.init(document.getElementById('c'), null, {renderer: 'canvas'});
chart.setOption({
  animation: false,
  backgroundColor: '#ffffff',
  grid: grids, xAxis: xAxes, yAxis: yAxes, series: series,
  legend: legends, graphic: {elements: graphics}
});
</script>
</body></html>
